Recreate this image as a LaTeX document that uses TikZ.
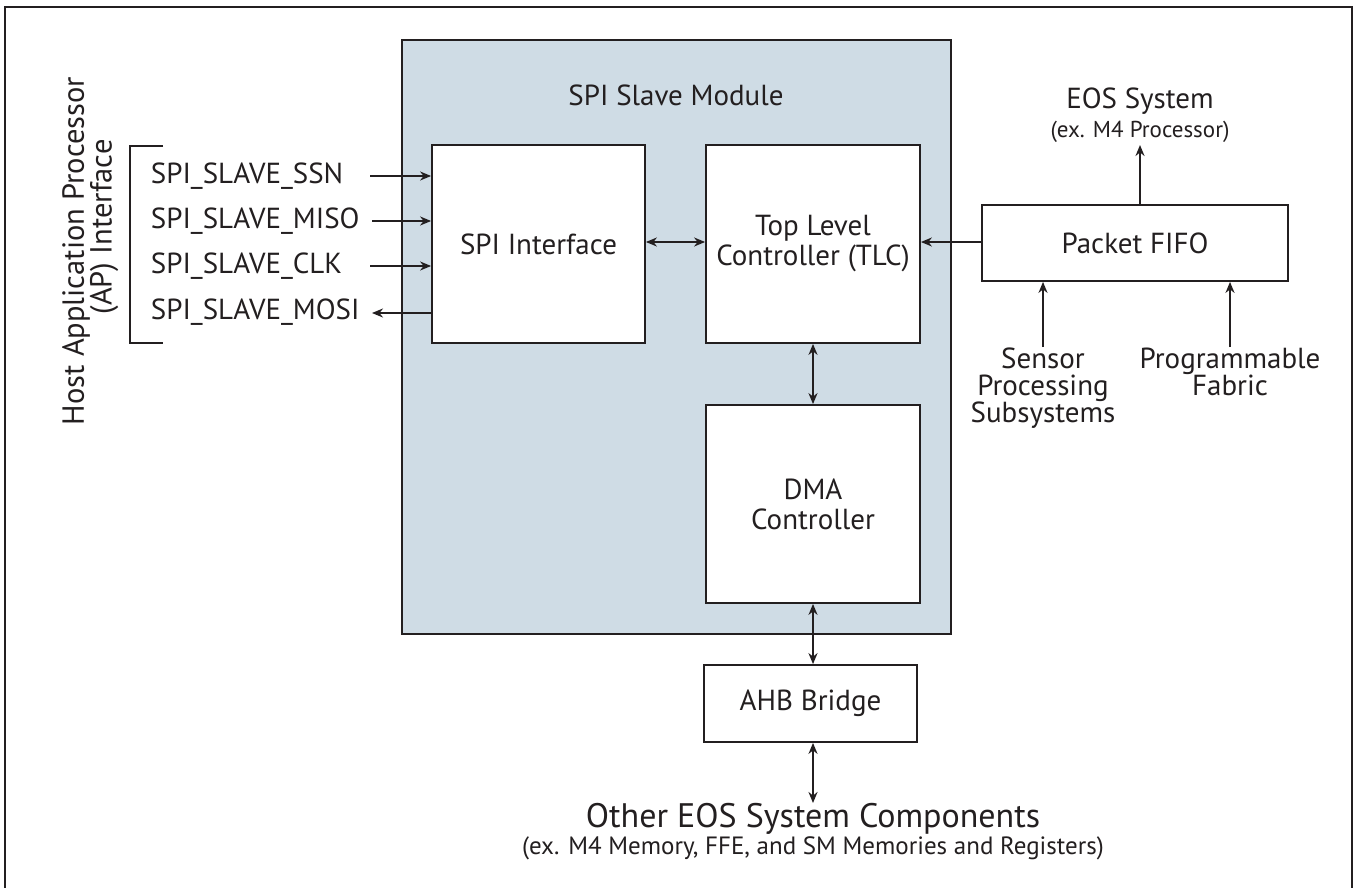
\documentclass[tikz,border=0pt]{standalone}
\usepackage{fontspec}
\setmainfont{PT Sans}
\usetikzlibrary{arrows.meta}
\definecolor{ink}{HTML}{231F20}
\definecolor{modfill}{HTML}{CFDCE5}
\begin{document}
\begin{tikzpicture}[x=1pt,y=-1pt,
  line width=1.8pt, draw=ink, text=ink,
  blk/.style={draw=ink, fill=white, line width=1.8pt, inner sep=0pt, align=center,
    font=\fontsize{29}{30}\selectfont},
  lbl/.style={inner sep=0pt, align=center, font=\fontsize{29}{27}\selectfont},
  sub/.style={inner sep=0pt, align=center, font=\fontsize{23}{25}\selectfont},
  sig/.style={inner sep=0pt, anchor=west, font=\fontsize{29}{30}\selectfont},
  arr/.style={-{Stealth[length=11pt,width=9pt]}, line width=1.8pt, draw=ink},
  darr/.style={{Stealth[length=11pt,width=9pt]}-{Stealth[length=11pt,width=9pt]}, line width=1.8pt, draw=ink}]
\clip (0,0) rectangle (1357,888);
\fill[white] (0,0) rectangle (1357,888);
% outer frame
\draw[line width=2.4pt] (5,7) rectangle (1352,900);

% SPI slave module
\node[draw=ink, fill=modfill, line width=2pt, minimum width=549pt, minimum height=594pt, inner sep=0pt] (mod) at (676.5,337) {};
\node[lbl] (modt) at (676,95) {SPI Slave Module};

\node[blk, minimum width=213pt, minimum height=198pt] (spi) at (538.5,244) {SPI Interface};
\node[blk, minimum width=214pt, minimum height=198pt] (tlc) at (813,244) {Top Level\\Controller (TLC)};
\node[blk, minimum width=214pt, minimum height=198pt] (dma) at (813,504) {DMA\\Controller};
\node[blk, minimum width=213pt, minimum height=77pt] (ahb) at (810.5,703.5) {AHB Bridge};
\node[blk, minimum width=306pt, minimum height=76pt] (fifo) at (1135,243) {Packet FIFO};

% host interface signals
\node[sig] (ssn) at (150,176) {SPI\_SLAVE\_SSN};
\node[sig] (miso) at (150,221) {SPI\_SLAVE\_MISO};
\node[sig] (clk) at (150,266) {SPI\_SLAVE\_CLK};
\node[sig] (mosi) at (150,312) {SPI\_SLAVE\_MOSI};
\coordinate (sssn) at (370,176);
\coordinate (smiso) at (372,221);
\coordinate (sclk) at (370,266);
\coordinate (smosi) at (372,313);
\draw[arr] (sssn) -- (sssn -| spi.west);
\draw[arr] (smiso) -- (smiso -| spi.west);
\draw[arr] (sclk) -- (sclk -| spi.west);
\draw[arr] (smosi -| spi.west) -- (smosi);

% bracket
\coordinate (bt) at (163,146);
\coordinate (bb) at (163,343);
\draw[line width=1.8pt] (bt) -- (130,146) -- (130,343) -- (bb);

% rotated interface title
\node[lbl, rotate=90, font=\fontsize{30.5}{30}\selectfont] (host1) at (76,251) {Host Application Processor};
\node[lbl, rotate=90, font=\fontsize{30.5}{30}\selectfont] (host2) at (104,227) {(AP) Interface};

% internal links
\draw[darr] (spi.east |- 0,242) -- (tlc.west |- 0,242);
\draw[darr] (tlc.south) -- (dma.north);
\draw[darr] (dma.south) -- (dma.south |- ahb.north);
\coordinate (oth) at (813,803);
\draw[darr] (dma.south |- ahb.south) -- (oth);
\node[lbl, font=\fontsize{34}{34}\selectfont] (other) at (813,819) {Other EOS System Components};
\node[sub, font=\fontsize{25}{25}\selectfont] (othersub) at (813,848) {(ex. M4 Memory, FFE, and SM Memories and Registers)};

% packet FIFO links
\draw[arr] (fifo.west |- 0,242) -- (tlc.east |- 0,242);
\node[lbl] (eos) at (1140,101) {EOS System};
\node[sub] (eossub) at (1140,132) {(ex. M4 Processor)};
\coordinate (eosin) at (1140,145);
\draw[arr] (fifo.north -| eosin) -- (eosin);

\node[lbl, anchor=north] (sens) at (1043,347) {Sensor\\Processing\\Subsystems};
\node[lbl, anchor=north] (fab) at (1230,347) {Programmable\\Fabric};
\draw[arr] (sens.north) -- (sens.north |- fifo.south) ;
\draw[arr] (fab.north) -- (fab.north |- fifo.south);
\end{tikzpicture}
\end{document}
